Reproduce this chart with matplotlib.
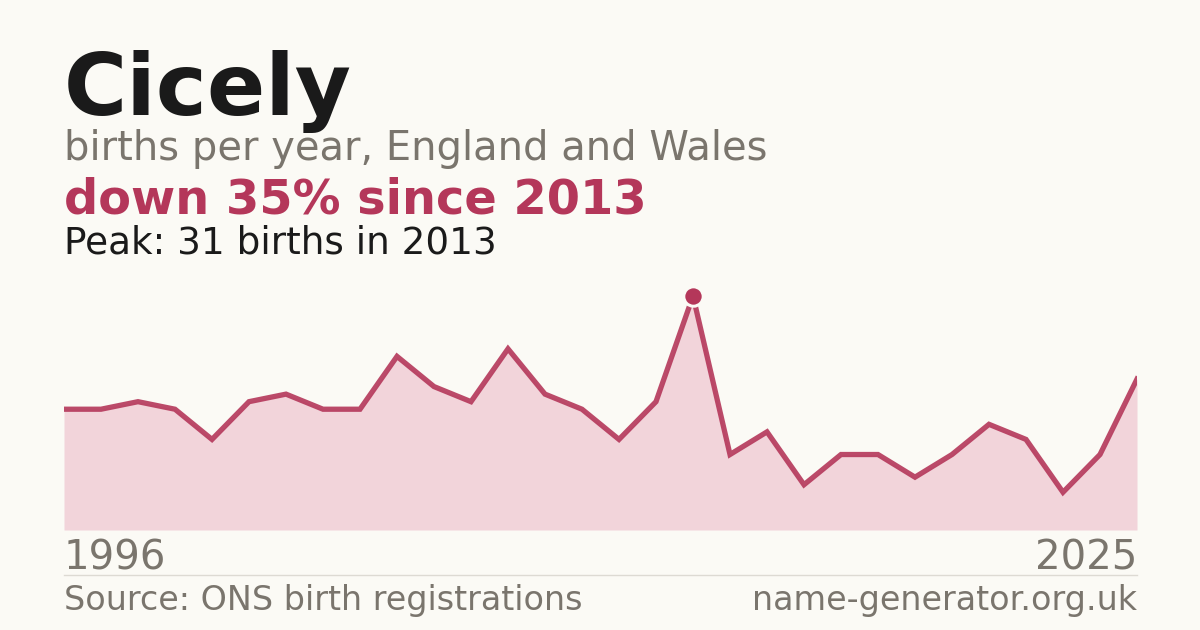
import matplotlib
matplotlib.use("Agg")
import matplotlib.pyplot as plt

years = list(range(1996, 2026))
births = [16, 16, 17, 16, 12, 17, 18, 16, 16, 23, 19, 17, 24, 18, 16, 12, 17, 31,
          10, 13, 6, 10, 10, 7, 10, 14, 12, 5, 10, 20]
title = "Cicely"
subtitle = "births per year, England and Wales"
headline = "down 35% since 2013"
peak_text = "Peak: 31 births in 2013"
source = "Source: ONS birth registrations"
site = "name-generator.org.uk"

BG = "#fbfaf5"
RED = "#b4375a"
FILL = "#f2d4da"
GRAY = "#7a756d"
DARK = "#1a1a1a"

W, H = 1200, 630
fig = plt.figure(figsize=(12, 6.3), dpi=100, facecolor=BG)

def fx(px):
    return px / W

def fy(py):
    return 1 - py / H

ax = fig.add_axes([fx(64), fy(530), fx(1137) - fx(64), fy(296) - fy(530)])
ax.set_facecolor(BG)
ax.patch.set_alpha(0)
ax.fill_between(years, births, 0, color=FILL, lw=0)
ax.plot(years, births, color=RED, lw=3.8, solid_joinstyle="miter", alpha=0.9)
pk = births.index(max(births))
ax.plot([years[pk]], [births[pk]], "o", ms=14, color=RED, mec=BG, mew=2.2,
        clip_on=False, zorder=5)
ax.set_xlim(years[0], years[-1])
ax.set_ylim(0, max(births))
ax.axis("off")

fig.text(fx(64), fy(115), title, fontsize=62, fontweight="bold", color=DARK,
         ha="left", va="baseline")
fig.text(fx(64), fy(160), subtitle, fontsize=28.8, color=GRAY, ha="left", va="baseline")
fig.text(fx(64), fy(214), headline, fontsize=34.5, fontweight="bold", color=RED,
         ha="left", va="baseline")
fig.text(fx(64), fy(254), peak_text, fontsize=26.9, color=DARK, ha="left", va="baseline")

fig.text(fx(64), fy(570), str(years[0]), fontsize=29, color=GRAY, ha="left", va="baseline")
fig.text(fx(1137), fy(570), str(years[-1]), fontsize=29, color=GRAY, ha="right", va="baseline")

fig.add_artist(plt.Line2D([fx(64), fx(1137)], [fy(574.5), fy(574.5)],
                          color="#dddad3", lw=1))

fig.text(fx(64), fy(610), source, fontsize=24, color=GRAY, ha="left", va="baseline")
fig.text(fx(1137), fy(610), site, fontsize=24, color=GRAY, ha="right", va="baseline")

fig.savefig("out.png", dpi=100, facecolor=BG)
